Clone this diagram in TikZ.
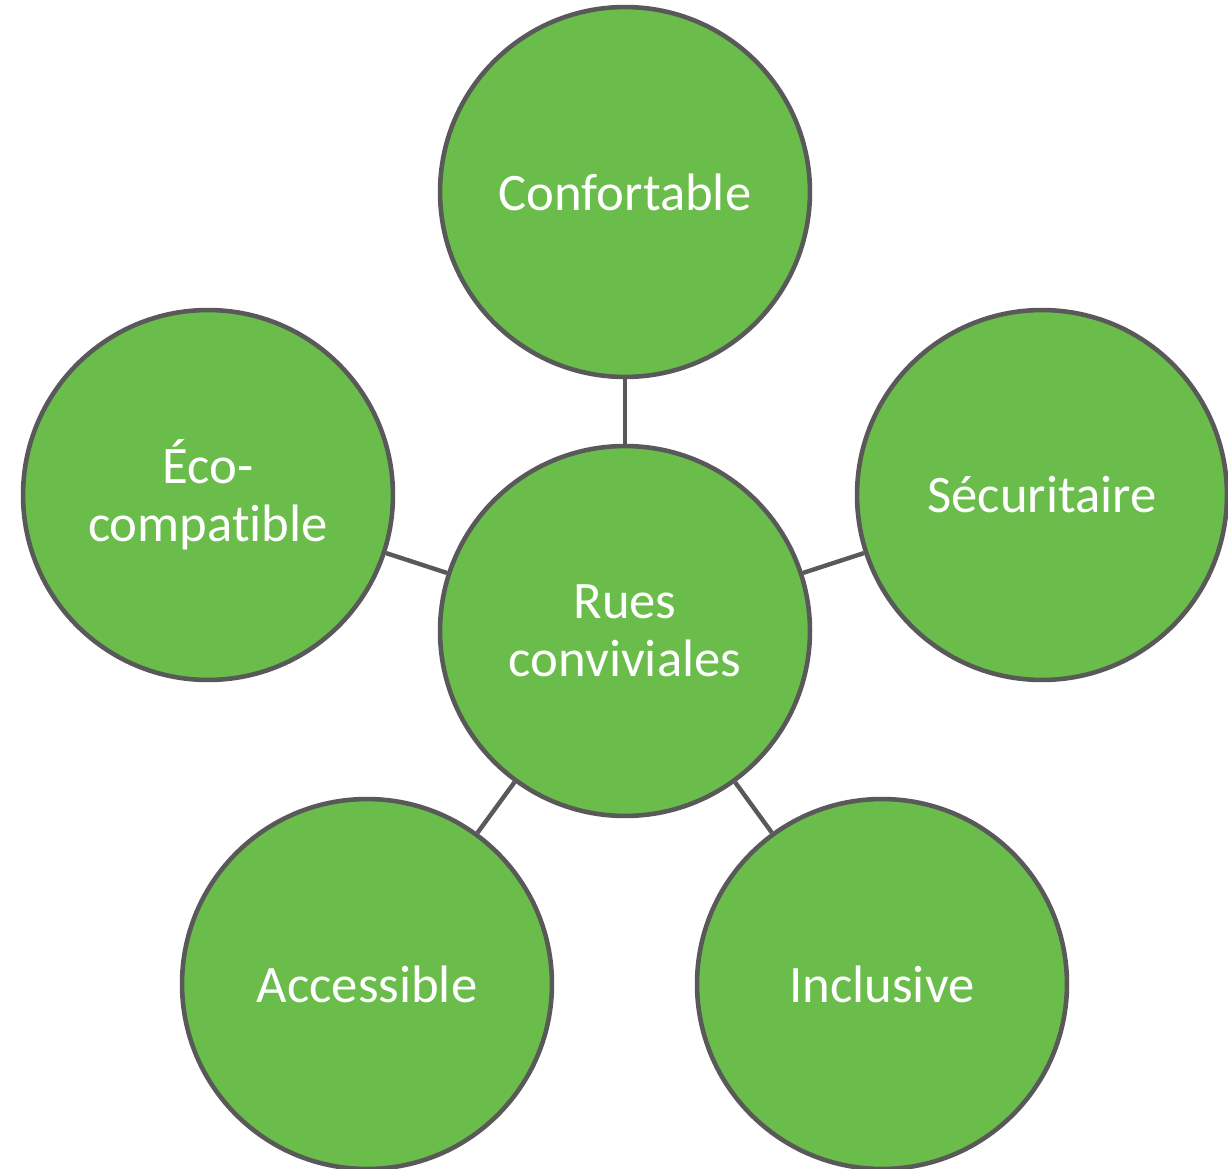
\documentclass[tikz,border=0pt]{standalone}
\usepackage{fontspec}
\setmainfont[Ligatures={NoCommon}]{Carlito}
\definecolor{leaf}{HTML}{6ABD4B}
\definecolor{rim}{HTML}{595959}

\begin{document}
\begin{tikzpicture}[x=0.02cm, y=-0.02cm,
    bubble/.style={draw=rim, fill=leaf, circle, line width=2.6pt, minimum size=7.4cm,
        inner sep=0pt, text=white, align=center, font=\fontsize{30}{33}\selectfont},
    link/.style={draw=rim, line width=2.5pt}]
        \useasboundingbox (0, 0) rectangle (1228, 1169);

        \node[bubble] (r) at (625, 631) {Rues\\conviviales};

        \node[bubble] (v0) at (625, 192) {Confortable};
        \node[bubble] (v1) at (1042, 495) {Sécuritaire};
        \node[bubble] (v2) at (882, 984) {Inclusive};
        \node[bubble] (v3) at (367, 984) {Accessible};
        \node[bubble] (v4) at (208, 495) {Éco-\\compatible};

        \draw[link] (r) -- (v0);
        \draw[link] (r) -- (v1);
        \draw[link] (r) -- (v2);
        \draw[link] (r) -- (v3);
        \draw[link] (r) -- (v4);
    \end{tikzpicture}
\end{document}
